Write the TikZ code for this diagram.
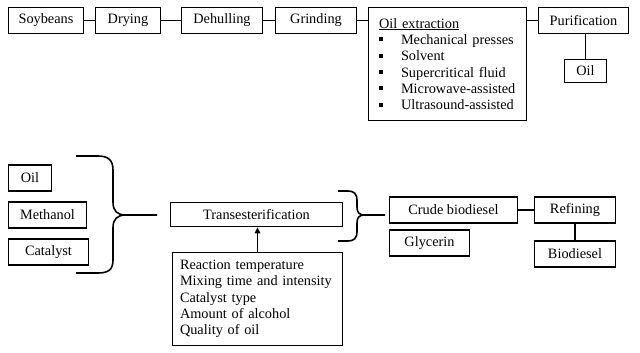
\documentclass[tikz,border=0pt]{standalone}
\usepackage{fontspec}
\setmainfont{Liberation Serif}
\usetikzlibrary{arrows.meta}
\newcommand\blt{\makebox[22pt][l]{\rule[3pt]{4pt}{4pt}}}
\begin{document}
\begin{tikzpicture}[x=1pt,y=1pt,
  font=\fontsize{14.3}{16.3}\selectfont,
  box/.style={draw, line width=1.6pt, inner sep=0pt, minimum height=26pt},
  conn/.style={line width=1.6pt}]
\useasboundingbox (0,0) rectangle (640,-353);
% top row
\node[box, minimum width=75, minimum height=26] (soy) at (46,-20.5) {Soybeans};
\node[box, minimum width=65, minimum height=26] (dry) at (128,-20.5) {Drying};
\node[box, minimum width=81, minimum height=26] (dehull) at (222,-20.5) {Dehulling};
\node[box, minimum width=81, minimum height=26] (grind) at (316,-20.5) {Grinding};
\node[box, minimum width=158, minimum height=113, inner xsep=10.5pt, text width=137pt, align=left] (ext) at (447.5,-64)
  {\underline{Oil extraction}\\
   \blt Mechanical presses\\
   \blt Solvent\\
   \blt Supercritical fluid\\
   \blt Microwave-assisted\\
   \blt Ultrasound-assisted};
\node[box, minimum width=90, minimum height=26] (purif) at (583.5,-20.5) {Purification};
\node[box, minimum width=42, minimum height=23] (oiltop) at (585.5,-71) {Oil};
\draw[conn] (soy) -- (dry);
\draw[conn] (dry) -- (dehull);
\draw[conn] (dehull) -- (grind);
\draw[conn] (grind.east) -- (grind.east -| ext.west);
\draw[conn] (purif.west -| ext.east) -- (purif.west);
\draw[conn] (oiltop.north |- purif.south) -- (oiltop.north);
% bottom part
\node[box, minimum width=43] (oilb) at (30,-178) {Oil};
\node[box, minimum width=78] (meth) at (47.5,-215) {Methanol};
\node[box, minimum width=80] (cat) at (48.5,-252) {Catalyst};
\node[box, minimum width=172, minimum height=24] (trans) at (256.5,-214.5) {Transesterification};
\node[box, minimum width=170, minimum height=93, inner xsep=7.5pt, text width=155pt, align=left] (param) at (257.5,-299)
  {Reaction temperature\\
   Mixing time and intensity\\
   Catalyst type\\
   Amount of alcohol\\
   Quality of oil};
\node[box, minimum width=128] (crude) at (453.5,-210) {Crude biodiesel};
\node[box, minimum width=80] (glyc) at (429.5,-243) {Glycerin};
\node[box, minimum width=81] (refin) at (575,-210) {Refining};
\node[box, minimum width=81] (biod) at (575,-254) {Biodiesel};
\draw[conn, -{Triangle[length=6pt,width=5.5pt]}] (param.north) -- (param.north |- trans.south);
\draw[conn] (crude) -- (refin);
\draw[conn] (refin) -- (biod);
% braces
\coordinate (b1top) at (76,-156);
\coordinate (b1tip) at (157,-215);
\coordinate (b1bot) at (76,-273);
\draw[conn] (b1top) -- (98,-156) .. controls (108,-156) and (113,-160) .. (113,-170)
  -- (113,-202) .. controls (113,-211) and (117,-215) .. (126,-215) -- (b1tip);
\draw[conn] (126,-215) .. controls (117,-215) and (113,-219) .. (113,-228)
  -- (113,-260) .. controls (113,-270) and (108,-273) .. (98,-273) -- (b1bot);
\coordinate (b2top) at (338,-191);
\coordinate (b2tip) at (385,-215);
\coordinate (b2bot) at (338,-241);
\draw[conn] (b2top) -- (348,-191) .. controls (354,-191) and (357,-194) .. (357,-200)
  -- (357,-207) .. controls (357,-212) and (359,-215) .. (364,-215) -- (b2tip);
\draw[conn] (364,-215) .. controls (359,-215) and (357,-218) .. (357,-223)
  -- (357,-232) .. controls (357,-238) and (354,-241) .. (348,-241) -- (b2bot);
\end{tikzpicture}
\end{document}
